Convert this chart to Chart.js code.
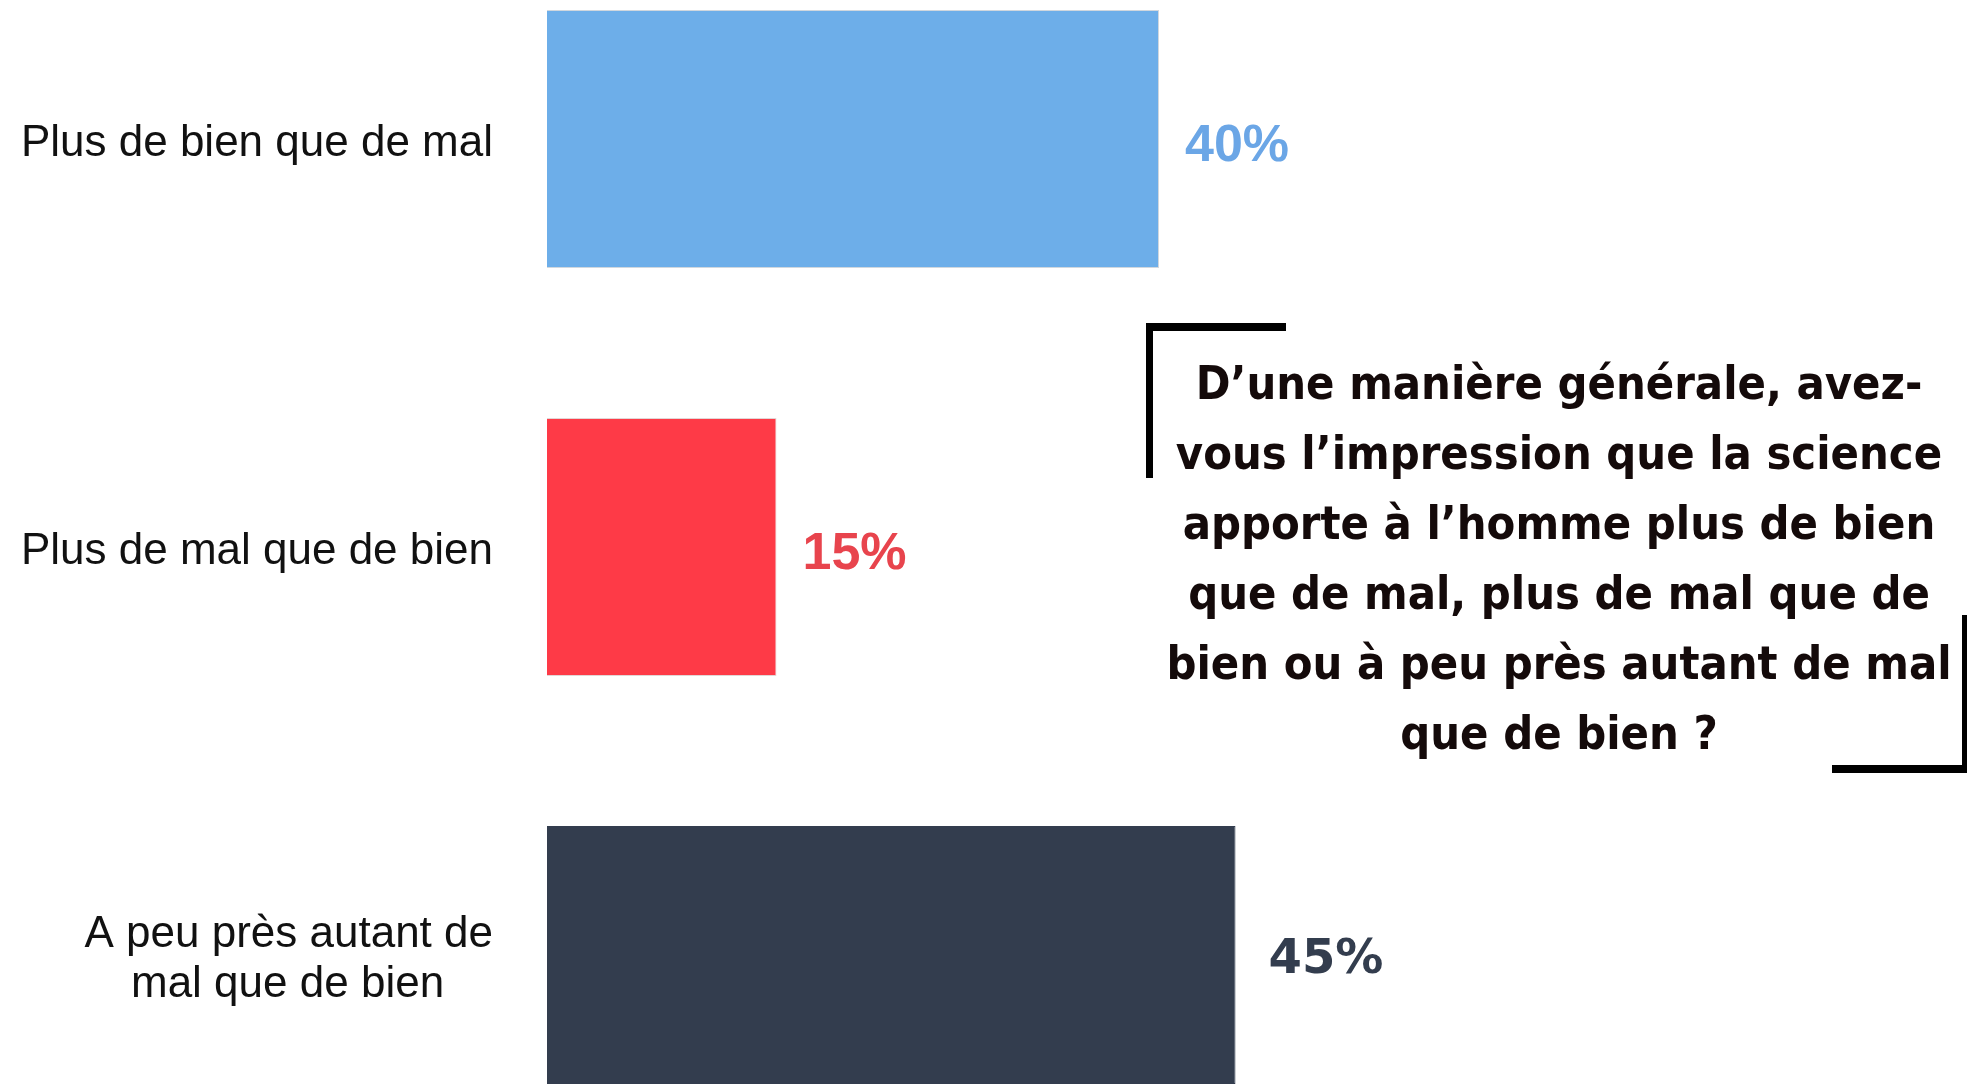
<!DOCTYPE html>
<html lang="fr">
<head>
<meta charset="utf-8">
<script src="https://cdn.jsdelivr.net/npm/chart.js@4/dist/chart.umd.min.js"></script>
<style>
  html, body { margin: 0; padding: 0; background: #ffffff; width: 1967px; height: 1087px; overflow: hidden; }
  #wrap { position: absolute; left: 0; top: -65px; width: 2077px; height: 1224px; }
  #c { display: block; width: 2077px; height: 1224px; }
  #question {
    position: absolute; left: 1139px; top: 348px; width: 840px;
    text-align: center; line-height: 70px; color: #140a0a;
    font-family: "Liberation Sans Narrow", "DejaVu Sans Condensed", sans-serif; font-weight: bold; font-size: 50px;
    white-space: nowrap;
  }
  .bk { position: absolute; background: #000; }
</style>
</head>
<body>
<div id="wrap"><canvas id="c" width="2077" height="1224"></canvas></div>
<div class="bk" style="left:1146px;top:323px;width:140px;height:8px;"></div>
<div class="bk" style="left:1146px;top:323px;width:7px;height:155px;"></div>
<div class="bk" style="left:1962px;top:615px;width:5px;height:158px;"></div>
<div class="bk" style="left:1832px;top:765px;width:135px;height:8px;"></div>
<div id="question">D’une manière générale, avez-<br>vous l’impression que la science<br>apporte à l’homme plus de bien<br>que de mal, plus de mal que de<br>bien ou à peu près autant de mal<br>que de bien ?</div>
<script>
const categories = [
  'Plus de bien que de mal',
  'Plus de mal que de bien',
  ['A peu près autant de', 'mal que de bien    ']
];
const values = [40, 15, 45];
const valueLabels = ['40%', '15%', '45%'];
const barColors = ['#6daee9', '#fe3a47', '#333d4e'];
const labelColors = ['#6ba6e6', '#e8444d', '#333d4e'];

// fit question text width
(function fitQuestion() {
  const q = document.getElementById('question');
  const cv = document.createElement('canvas').getContext('2d');
  const fam = '"Liberation Sans Narrow", "DejaVu Sans Condensed", sans-serif';
  cv.font = 'bold 100px ' + fam;
  const w = cv.measureText('vous l’impression que la science').width;
  const size = 100 * 767 / w;
  q.style.fontSize = size.toFixed(1) + 'px';
})();

const valueLabelPlugin = {
  id: 'valueLabels',
  afterDatasetsDraw(chart) {
    const ctx = chart.ctx;
    const meta = chart.getDatasetMeta(0);
    meta.data.forEach((bar, i) => {
      ctx.save();
      if (i === 2) {
        ctx.font = 'bold 48px "DejaVu Sans", sans-serif';
      } else {
        ctx.font = 'bold 52px "Liberation Sans", Arial, sans-serif';
      }
      ctx.fillStyle = labelColors[i];
      ctx.textAlign = 'left';
      ctx.textBaseline = 'middle';
      ctx.fillText(valueLabels[i], bar.x + (i === 2 ? 33 : 26), bar.y + (i === 2 ? 6 : 8));
      ctx.restore();
    });
  }
};

new Chart(document.getElementById('c'), {
  type: 'bar',
  data: {
    labels: categories,
    datasets: [{
      data: values,
      backgroundColor: barColors,
      borderColor: ['rgba(120,140,160,0.35)', 'rgba(160,120,120,0.3)', '#333d4e'],
      borderWidth: 1,
      categoryPercentage: 1,
      barPercentage: 0.632
    }]
  },
  options: {
    indexAxis: 'y',
    responsive: false,
    maintainAspectRatio: false,
    animation: false,
    layout: { padding: 0 },
    plugins: { legend: { display: false }, tooltip: { enabled: false }, title: { display: false } },
    scales: {
      x: { display: false, min: 0, max: 100 },
      y: {
        grid: { display: false, drawTicks: false },
        border: { display: false },
        afterFit(scale) {
          scale.width = 547;
          scale.paddingTop = 0;
          scale.paddingBottom = 0;
        },
        ticks: {
          padding: 54,
          labelOffset: 5,
          color: '#111111',
          font: { family: '"Liberation Sans", Arial, sans-serif', size: 44, lineHeight: 1.15 }
        }
      }
    }
  },
  plugins: [valueLabelPlugin]
});
</script>
</body>
</html>
